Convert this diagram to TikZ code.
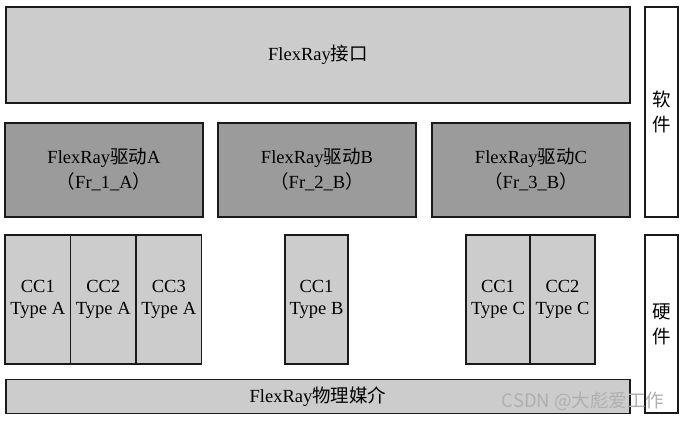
\documentclass[tikz,border=0pt]{standalone}
\usepackage{fontspec}
\setmainfont{Liberation Serif}
\newfontfamily\cjk{Noto Sans CJK SC}
\usetikzlibrary{positioning}
\definecolor{frInk}  {HTML}{1A1A1A}
\definecolor{frLight}{HTML}{CCCCCC}
\definecolor{frDark} {HTML}{9B9B9B}
\definecolor{frMark} {HTML}{AFAFAF}
\newcommand{\zh}[1]{{\cjk #1}}

\begin{document}
\begin{tikzpicture}[x=1pt,y=-1pt,
    layer/.style={draw=frInk,line width=1.6pt,outer sep=0pt,inner sep=0pt,
                  font=\fontsize{18.5}{25}\selectfont,align=center},
    light/.style={layer,fill=frLight},
    dark/.style={layer,fill=frDark},
    side/.style={layer,fill=white,minimum width=33pt},
    ccbox/.style={light,minimum width=65.5pt,minimum height=129pt,
                  font=\fontsize{18.5}{22}\selectfont}]
  \useasboundingbox (0,0) rectangle (685,421);

  % software
  \node[light,minimum width=624pt,minimum height=96pt] (iface) at (318,55) {FlexRay\zh{接口}};
  \node[dark,minimum width=198pt,minimum height=94pt] (drvA) at (104,170)
    {FlexRay\zh{驱动}A\\\zh{（}Fr\_1\_A\zh{）}};
  \node[dark,minimum width=198pt,minimum height=94pt] (drvB) at (317,170)
    {FlexRay\zh{驱动}B\\\zh{（}Fr\_2\_B\zh{）}};
  \node[dark,minimum width=198pt,minimum height=94pt] (drvC) at (531,170)
    {FlexRay\zh{驱动}C\\\zh{（}Fr\_3\_B\zh{）}};
  \node[side,minimum height=210pt] (soft) at (661.5,112) {\zh{软}\\\zh{件}};

  % hardware
  \node[ccbox] (ccA1) at (37.8,299.5) {CC1\\Type A};
  \node[ccbox,right=0pt of ccA1] (ccA2) {CC2\\Type A};
  \node[ccbox,right=0pt of ccA2] (ccA3) {CC3\\Type A};
  \node[ccbox,minimum width=63pt] (ccB1) at (316.5,299.5) {CC1\\Type B};
  \node[ccbox,minimum width=64.5pt] (ccC1) at (498,299.5) {CC1\\Type C};
  \node[ccbox,minimum width=64.5pt,right=0pt of ccC1] (ccC2) {CC2\\Type C};
  \node[light,minimum width=624pt,minimum height=34pt] (medium) at (318,396.5) {FlexRay\zh{物理媒介}};
  \node[side,minimum height=178pt] (hard) at (661.5,324) {\zh{硬}\\\zh{件}};

  \node[text=frMark,font=\cjk\fontsize{18.5}{18.5}\selectfont] (mark) at (583,401) {CSDN @大彪爱工作};
\end{tikzpicture}
\end{document}
